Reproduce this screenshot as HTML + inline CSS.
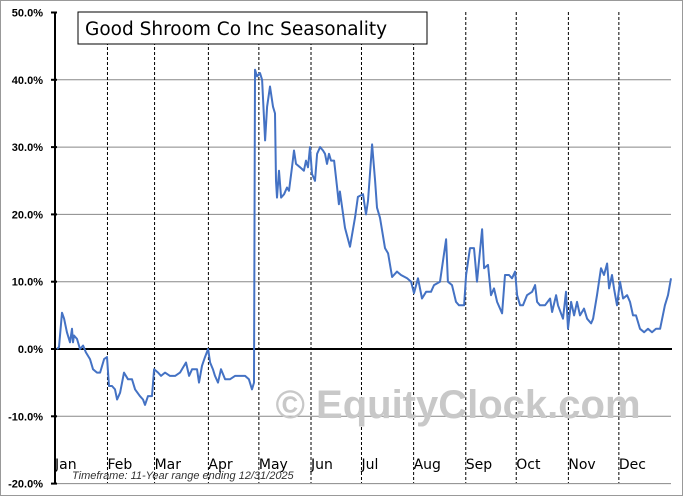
<!DOCTYPE html>
<html><head><meta charset="utf-8"><style>
body{margin:0;background:#fff;}
svg{display:block;font-family:"Liberation Sans",sans-serif;}
</style></head><body>
<svg id="c" width="683" height="496">
<rect x="0.5" y="0.5" width="682" height="495" fill="#fff" stroke="#999"/>
<g id="grid"></g>
<text x="458" y="418" font-size="40" font-weight="bold" fill="#c8c8c8" text-anchor="middle">© EquityClock.com</text>
<g id="marks"></g>
<rect x="78" y="12" width="349" height="32" fill="#fff" stroke="#000"/>
<text x="85" y="35" font-size="18.5" font-family="DejaVu Sans, sans-serif">Good Shroom Co Inc Seasonality</text>
<text x="72" y="479" font-size="11" font-style="italic" fill="#333">Timeframe:  11-Year range ending 12/31/2025</text>
</svg>
<script>
const yTicks=[50,40,30,20,10,0,-10,-20];
const yTickLabels=["50.0%","40.0%","30.0%","20.0%","10.0%","0.0%","-10.0%","-20.0%"];
const months=["Jan","Feb","Mar","Apr","May","Jun","Jul","Aug","Sep","Oct","Nov","Dec"];
const monthStarts=[0,30,58,90,120,151,181,212,243,273,304,334];
const days=[0,1.2,3,4.2,5.9,7.7,8.9,9.5,10.1,11.9,13.7,15.5,17.2,19.6,21.4,23.8,25.6,28,29.7,30.9,32.7,34.5,35.7,37.5,39.8,42.2,44.6,46.4,49.3,51.1,52.3,54.1,56.5,57.7,60.1,61.8,64.2,67.2,70.2,73.1,76.7,78.5,80.3,83.2,84.4,86.2,88,89.8,91,92.7,93.9,95.7,97.5,99.9,102.8,105.8,108.8,111.8,114.1,115.9,117.1,117.7,118.9,120.7,121.9,123.1,123.7,124.9,126.6,128.4,129.6,130.2,130.8,132,133.2,135,136.7,137.9,139.7,140.9,142.1,144.5,146.8,148,149.2,150.4,151.6,153.4,154.6,156.4,158.1,159.3,160.5,161.7,162.9,164.7,166.5,167.6,168.2,171.2,174.2,177.2,178.9,181.9,183.7,184.9,187.3,189.1,190.2,192,195,196.8,199.2,202.1,204.5,208.1,210.5,212.2,214.6,217,219.4,222.3,224.1,227.7,231.3,232.4,234.8,237.2,239,242,243.2,245.5,247.9,249.7,252.7,253.9,256.2,258,259.8,261.6,264.6,266.3,268.7,270.5,272.3,273.5,275.3,277,279.4,282.4,284.2,285.4,287.1,290.1,293.1,294.3,296.7,297.8,300.8,302.6,303.8,305.6,307.4,309.1,310.9,313.3,315.1,317.5,318.7,321,323.4,325.2,327,328.2,329.9,331.1,332.9,334.7,336.5,338.9,340.6,342.4,344.2,346.6,349,351.3,353.7,356.1,358.5,361.4,363.2,365];
const values=[0,0.3,5.4,4.5,2.5,1,3,1,2,1.5,0,0.5,-0.5,-1.5,-3,-3.5,-3.5,-1.5,-1.2,-5.5,-5.5,-6,-7.5,-6.5,-3.5,-4.5,-4.5,-6,-7,-7.5,-8.3,-7,-7,-3,-3.5,-4,-3.5,-4,-4,-3.5,-2,-4,-3,-3,-5,-2.5,-1.2,0,-2,-3,-4,-5,-3,-4.5,-4.5,-4,-4,-4,-4.5,-6,-5,41.5,40.5,41,40,34,31,36,39,36,35,25,22.5,26.5,22.5,23,24,23.5,27,29.5,27.5,27,26.5,28,27,30,26,25,29,30,29.5,29,27.5,29,28,28,24,21.5,23.4,18,15.2,19.6,22.6,23,20,22,30.4,25,21,19.5,15,14.2,10.7,11.5,11,10.5,10,8.3,10.5,7.5,8.5,8.5,9.5,10,16.3,10,9.5,7,6.5,6.5,11,15,15,10,17.8,12,12.5,8,9,7,5.3,11,11,10.5,11.5,8,6.5,6.5,8,8.5,9.5,7,6.5,6.5,7.5,5.5,8,6.5,4.5,8.5,3,7,5,7,5,6,4.5,3.8,4.5,8,12,11,12.7,9,11,9,6.5,10,7.5,8,7,5,5,3,2.5,3,2.5,3,3,6.5,8,10.5];
const NS="http://www.w3.org/2000/svg";
const X0=57,X1=671,Y0=349,PX=6.73;
const xs=d=>X0+d/365*(X1-X0);
const ys=v=>Y0-v*PX;
function mk(t,a,p){const e=document.createElementNS(NS,t);for(const k in a)e.setAttribute(k,a[k]);p.appendChild(e);return e;}
const g=document.getElementById('grid');
yTicks.forEach((v,i)=>{
  const y=ys(v);
  if(v!==0&&v!==50){const l=mk('line',{x1:X0,x2:X1,y1:y,y2:y,stroke:'#888','stroke-width':1},g);
  
  }
  const tk=mk('line',{x1:X0-6,x2:X0,y1:y,y2:y,stroke:'#000','stroke-width':2},g);
  
  
  const t=mk('text',{x:43,y:y+4,'font-size':11,'font-weight':'bold','text-anchor':'end'},g);
  t.textContent=yTickLabels[i];
  
  
});
months.forEach((m,i)=>{
  const x=xs(monthStarts[i]);
  if(i>0){const l=mk('line',{x1:x,x2:x,y1:12,y2:483,stroke:'#000','stroke-width':1,'stroke-dasharray':'3,2'},g);
  
  }
  const t=mk('text',{x:x+(i==0?-2:0),y:469,'font-size':14,'font-family':'DejaVu Sans, sans-serif'},g);
  t.textContent=m;
  
  
});
const ax=mk('line',{x1:X0-2,x2:X0-2,y1:12,y2:484,stroke:'#000','stroke-width':2},g);


const zl=mk('line',{x1:X0-2,x2:X1+1,y1:Y0,y2:Y0,stroke:'#000','stroke-width':2},g);


const m=document.getElementById('marks');
const p=mk('polyline',{points:days.map((d,i)=>xs(d).toFixed(1)+','+ys(values[i]).toFixed(1)).join(' '),fill:'none',stroke:'#4472c4','stroke-width':2,'stroke-linejoin':'round'},m);


</script>
</body></html>
